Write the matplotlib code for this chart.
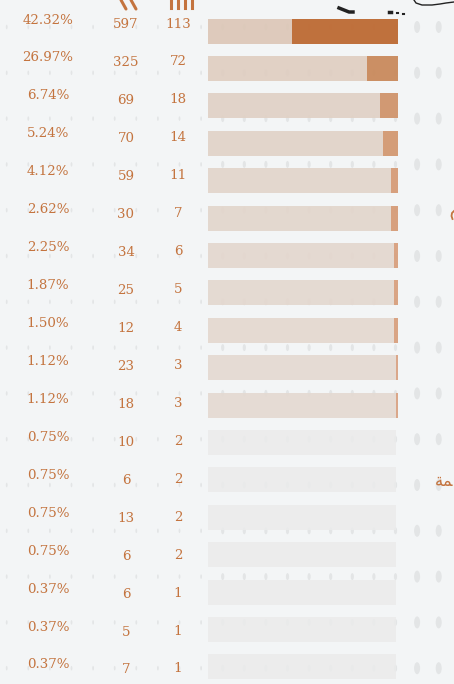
import numpy as np
import matplotlib.pyplot as plt
from matplotlib.collections import EllipseCollection

# values
pct_labels = ["42.32%", "26.97%", "6.74%", "5.24%", "4.12%", "2.62%", "2.25%", "1.87%",
              "1.50%", "1.12%", "1.12%", "0.75%", "0.75%", "0.75%", "0.75%", "0.37%",
              "0.37%", "0.37%"]
count_a = [597, 325, 69, 70, 59, 30, 34, 25, 12, 23, 18, 10, 6, 13, 6, 6, 5, 7]
count_b = [113, 72, 18, 14, 11, 7, 6, 5, 4, 3, 3, 2, 2, 2, 2, 1, 1, 1]
# share of the bar taken by the dark segment (right side)
share = [0.56, 0.163, 0.095, 0.079, 0.037, 0.037, 0.02, 0.02, 0.02, 0.01, 0.01,
         0, 0, 0, 0, 0, 0, 0]

dark_colors = ['#bd6a33', '#c98a5c', '#d0946c', '#d39871', '#d69c78', '#d69c78',
               '#d8a07e', '#d8a07e', '#d8a07e', '#d9a384', '#d9a384']
light_colors = ['#dcc6b6', '#dfcdc0', '#e0d0c4', '#e1d2c7', '#e2d4ca', '#e2d5cb',
                '#e3d6cd', '#e3d7ce', '#e4d8cf', '#e4d9d1', '#e4d9d1']
grey = '#ebebeb'
txt = '#c4743f'
bg = '#f3f5f6'

fig = plt.figure(figsize=(4.54, 6.84), dpi=100)
fig.patch.set_facecolor(bg)
ax = fig.add_axes([0, 0, 1, 1])
ax.set_xlim(0, 454)
ax.set_ylim(684, 0)
ax.axis('off')

# background dot grid
gx = 6.7 + 21.6 * np.arange(21)
gy = 27 + 45.8 * np.arange(15)
GX, GY = np.meshgrid(gx, gy)
GX, GY = GX.ravel(), GY.ravel()
w = np.where(GX > 410, 6.0, np.where(GX > 215, 3.2, 1.8))
h = np.where(GX > 410, 12.0, np.where(GX > 215, 7.0, 4.5))
ax.add_collection(EllipseCollection(w, h, np.zeros_like(w), units='xy',
                                    offsets=np.column_stack([GX, GY]),
                                    offset_transform=ax.transData,
                                    facecolors='#e3e5e6', edgecolors='none', zorder=1))

n = len(pct_labels)
bar_y = 31 + 37.4 * np.arange(n)
text_y = 20 + 37.94 * np.arange(n)
x0, full = 208, 190
font = dict(color=txt, fontsize=9.6, family='DejaVu Serif', ha='center', va='center')

for i in range(n):
    if i < len(dark_colors):
        dark = full * share[i]
        ax.barh(bar_y[i], full - dark, left=x0, height=25, color=light_colors[i],
                alpha=0.9, zorder=2)
        ax.barh(bar_y[i], dark, left=x0 + full - dark, height=25, color=dark_colors[i],
                alpha=0.95, zorder=2)
    else:
        ax.barh(bar_y[i], full - 2, left=x0, height=25, color=grey, alpha=0.85, zorder=2)

    ax.text(48, text_y[i], pct_labels[i], **font)
    ax.text(126, text_y[i] + 5, str(count_a[i]), **font)
    ax.text(178, text_y[i] + 4, str(count_b[i]), **font)

# cropped header icons at the top
for x in (121, 131):
    ax.plot([x, x + 5], [0, 9], color=txt, lw=2.2, solid_capstyle='round', zorder=3)
for x in (171, 178, 185, 192):
    ax.plot([x, x], [0, 8], color=txt, lw=2.2, zorder=3)

# cropped black map outline at the top right
ax.plot([339, 344, 349, 353], [8, 10, 12, 12], color='#222222', lw=2.5, zorder=3)
ax.plot([389, 391], [12, 12], color='#222222', lw=2.5, zorder=3)
ax.plot([397, 398], [13, 13], color='#222222', lw=1.5, zorder=3)
ax.plot([403, 404], [14, 14], color='#222222', lw=1.5, zorder=3)
ax.plot([414, 416, 422, 432, 440, 446, 454], [0, 3, 5, 5, 4, 3, 2],
        color='#222222', lw=1.0, zorder=3)

# cropped label fragments at the right edge
ax.text(435, 481, '\uFE94\uFEE4', ha='left', va='center', color=txt,
        fontsize=12, family='DejaVu Sans')
ax.plot([454, 452, 451.5, 452.5], [211, 213, 216, 219], color=txt, lw=1.3, zorder=3)

fig.savefig('out.png', dpi=100, facecolor=bg)
